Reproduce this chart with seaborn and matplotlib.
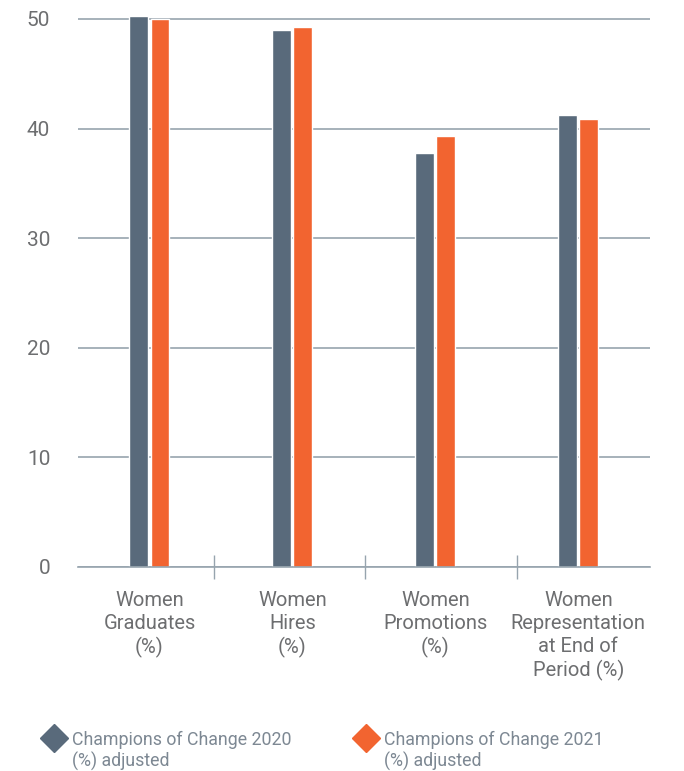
import matplotlib
matplotlib.use("Agg")
import matplotlib.pyplot as plt
import seaborn as sns
import pandas as pd
from matplotlib.lines import Line2D

categories = ["Women\nGraduates\n(%)", "Women\nHires\n(%)", "Women\nPromotions\n(%)",
              "Women\nRepresentation\nat End of\nPeriod (%)"]
series_names = ["Champions of Change 2020\n(%) adjusted", "Champions of Change 2021\n(%) adjusted"]
values_2020 = [50.3, 49.0, 37.8, 41.2]
values_2021 = [50.0, 49.3, 39.3, 40.9]
yticks = [0, 10, 20, 30, 40, 50]

colors = ["#596a7b", "#f26430"]
text_color = "#6d6e70"
legend_color = "#7d8893"
grid_color = "#97a4ae"

df = pd.DataFrame({
    "category": categories * 2,
    "series": [series_names[0]] * 4 + [series_names[1]] * 4,
    "value": values_2020 + values_2021,
})

sns.set_theme(style="white")
plt.rcParams["font.family"] = ["Roboto", "DejaVu Sans"]

fig = plt.figure(figsize=(6.84, 7.71), dpi=100)
ax = fig.add_axes([0.114, 0.2646, 0.836, 0.725])

sns.barplot(data=df, x="category", y="value", hue="series", palette=colors,
            width=0.294, gap=0.1, ax=ax, legend=False, saturation=1)

ax.set_ylim(0, 51)
ax.set_xlim(-0.5, 3.5)
ax.set_yticks(yticks)
ax.set_yticklabels([str(t) for t in yticks], fontsize=15, color=text_color)
ax.yaxis.grid(True, color=grid_color, linewidth=1.2)
ax.set_axisbelow(True)
for s in ["top", "right", "left"]:
    ax.spines[s].set_visible(False)
ax.spines["bottom"].set_color(grid_color)
ax.spines["bottom"].set_linewidth(1.2)
ax.tick_params(axis="y", length=0, pad=20)
ax.set_xlabel("")
ax.set_ylabel("")

# category labels
ax.set_xticks(range(len(categories)))
ax.set_xticklabels(categories, fontsize=14.5, color=text_color, linespacing=1.27, va="top")
ax.tick_params(axis="x", which="major", length=0, pad=17)
# separators between categories
ax.set_xticks([0.45, 1.51, 2.57], minor=True)
ax.tick_params(axis="x", which="minor", bottom=True, direction="inout", length=17,
               color=grid_color, width=1)

# legend (drawn at figure level)
marker_x = [0.079, 0.535]
text_x = [0.105, 0.561]
for i, name in enumerate(series_names):
    fig.add_artist(Line2D([marker_x[i]], [1 - 738 / 771], marker="D", markersize=14,
                          color=colors[i], linestyle="none", transform=fig.transFigure))
    fig.text(text_x[i], 1 - 731 / 771, name, fontsize=12.8, color=legend_color,
             va="top", ha="left", linespacing=1.15)

fig.savefig("out.png", dpi=100)
